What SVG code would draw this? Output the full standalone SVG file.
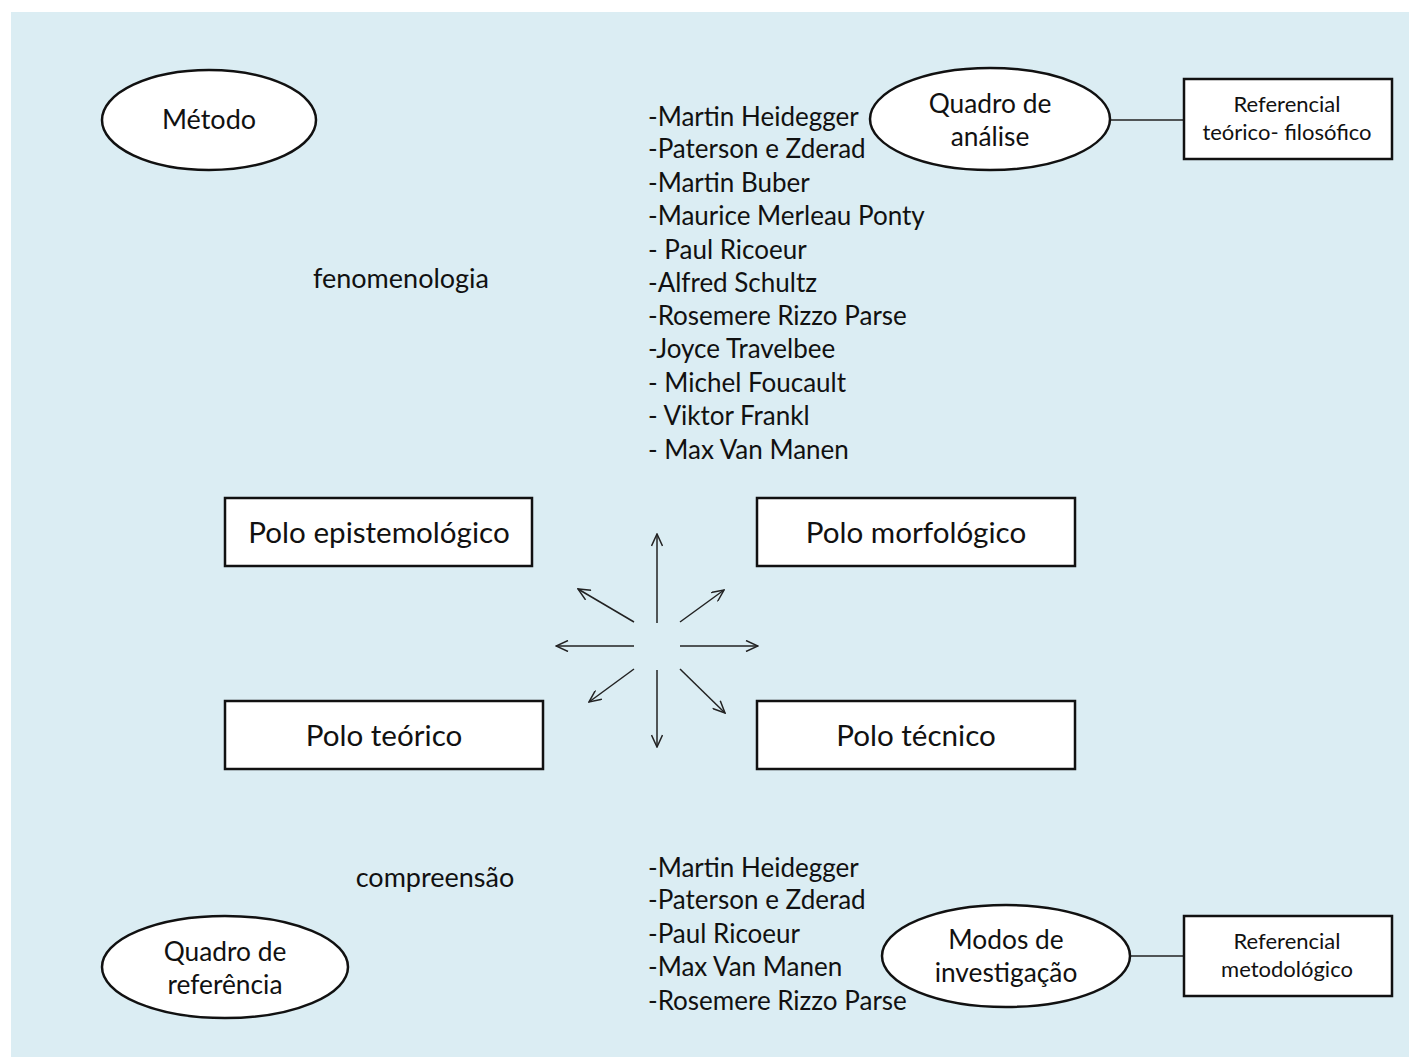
<svg xmlns="http://www.w3.org/2000/svg" width="1409" height="1057" viewBox="0 0 1409 1057">
<defs>
<style>
.t{font-family:Lato,"Open Sans","Liberation Sans",sans-serif;fill:#111;}
.c{text-anchor:middle;}
.el{fill:#fff;stroke:#111;stroke-width:2.5;}
.bx{fill:#fff;stroke:#111;stroke-width:2.5;}
.ln{stroke:#222;stroke-width:1.5;fill:none;}
.ar{stroke:#222;stroke-width:1.5;fill:none;marker-end:url(#ah);}
.li{font-size:26px;}
.el-t{font-size:26.3px;}
.bx-t{font-size:22px;}
.polo{font-size:29.6px;}
.lab{font-size:27px;}
</style>
<marker id="ah" viewBox="0 0 14 12" refX="13" refY="6" markerWidth="14" markerHeight="12" markerUnits="userSpaceOnUse" orient="auto">
<path d="M1,0.5 L13,6 L1,11.5" fill="none" stroke="#222" stroke-width="1.5"/>
</marker>
</defs>
<rect x="0" y="0" width="1409" height="1057" fill="#fff"/>
<rect x="11" y="12" width="1398" height="1045" fill="#DBEDF3"/>

<g id="connectors">
<line class="ln" x1="1110" y1="120" x2="1184" y2="120"/>
<line class="ln" x1="1131" y1="956" x2="1184" y2="956"/>
<line class="ar" x1="657" y1="623" x2="657" y2="534"/>
<line class="ar" x1="634" y1="622" x2="578" y2="589"/>
<line class="ar" x1="680" y1="622" x2="724" y2="590"/>
<line class="ar" x1="634" y1="646" x2="556" y2="646"/>
<line class="ar" x1="680" y1="646" x2="758" y2="646"/>
<line class="ar" x1="634" y1="669" x2="589" y2="702"/>
<line class="ar" x1="657" y1="670" x2="657" y2="747"/>
<line class="ar" x1="680" y1="669" x2="725" y2="713"/>
</g>

<g id="metodo">
<ellipse class="el" cx="209" cy="120" rx="107" ry="50"/>
<text class="t c lab" x="209" y="129">Método</text>
</g>

<g id="quadro-analise">
<ellipse class="el" cx="990" cy="119" rx="120" ry="51"/>
<text class="t c el-t" x="990" y="113">Quadro de</text>
<text class="t c el-t" x="990" y="146">análise</text>
</g>

<g id="ref-teorico">
<rect class="bx" x="1184" y="79" width="208" height="80"/>
<text class="t c bx-t" x="1287" y="112">Referencial</text>
<text class="t c bx-t" x="1287" y="140">teórico- filosófico</text>
</g>

<g id="lista-topo">
<text class="t li" x="648" y="126">-Martin Heidegger</text>
<text class="t li" x="648" y="158">-Paterson e Zderad</text>
<text class="t li" x="648" y="192">-Martin Buber</text>
<text class="t li" x="648" y="225">-Maurice Merleau Ponty</text>
<text class="t li" x="648" y="259">- Paul Ricoeur</text>
<text class="t li" x="648" y="292">-Alfred Schultz</text>
<text class="t li" x="648" y="325">-Rosemere Rizzo Parse</text>
<text class="t li" x="648" y="358">-Joyce Travelbee</text>
<text class="t li" x="648" y="392">- Michel Foucault</text>
<text class="t li" x="648" y="425">- Viktor Frankl</text>
<text class="t li" x="648" y="459">- Max Van Manen</text>
</g>

<g id="fenomenologia">
<text class="t c lab" x="401" y="288">fenomenologia</text>
</g>

<g id="polo-epistemologico">
<rect class="bx" x="225" y="498" width="307" height="68"/>
<text class="t c polo" x="379" y="543">Polo epistemológico</text>
</g>

<g id="polo-morfologico">
<rect class="bx" x="757" y="498" width="318" height="68"/>
<text class="t c polo" x="916" y="543">Polo morfológico</text>
</g>

<g id="polo-teorico">
<rect class="bx" x="225" y="701" width="318" height="68"/>
<text class="t c polo" x="384" y="746">Polo teórico</text>
</g>

<g id="polo-tecnico">
<rect class="bx" x="757" y="701" width="318" height="68"/>
<text class="t c polo" x="916" y="746">Polo técnico</text>
</g>

<g id="compreensao">
<text class="t c lab" x="435" y="887">compreensão</text>
</g>

<g id="lista-base">
<text class="t li" x="648" y="877">-Martin Heidegger</text>
<text class="t li" x="648" y="909">-Paterson e Zderad</text>
<text class="t li" x="648" y="943">-Paul Ricoeur</text>
<text class="t li" x="648" y="976">-Max Van Manen</text>
<text class="t li" x="648" y="1010">-Rosemere Rizzo Parse</text>
</g>

<g id="quadro-referencia">
<ellipse class="el" cx="225" cy="967" rx="123" ry="51"/>
<text class="t c el-t" x="225" y="961">Quadro de</text>
<text class="t c el-t" x="225" y="994">referência</text>
</g>

<g id="modos-investigacao">
<ellipse class="el" cx="1006" cy="956" rx="124" ry="51"/>
<text class="t c el-t" x="1006" y="949">Modos de</text>
<text class="t c el-t" x="1006" y="982">investigação</text>
</g>

<g id="ref-metodologico">
<rect class="bx" x="1184" y="916" width="208" height="80"/>
<text class="t c bx-t" x="1287" y="949">Referencial</text>
<text class="t c bx-t" x="1287" y="977">metodológico</text>
</g>
</svg>
